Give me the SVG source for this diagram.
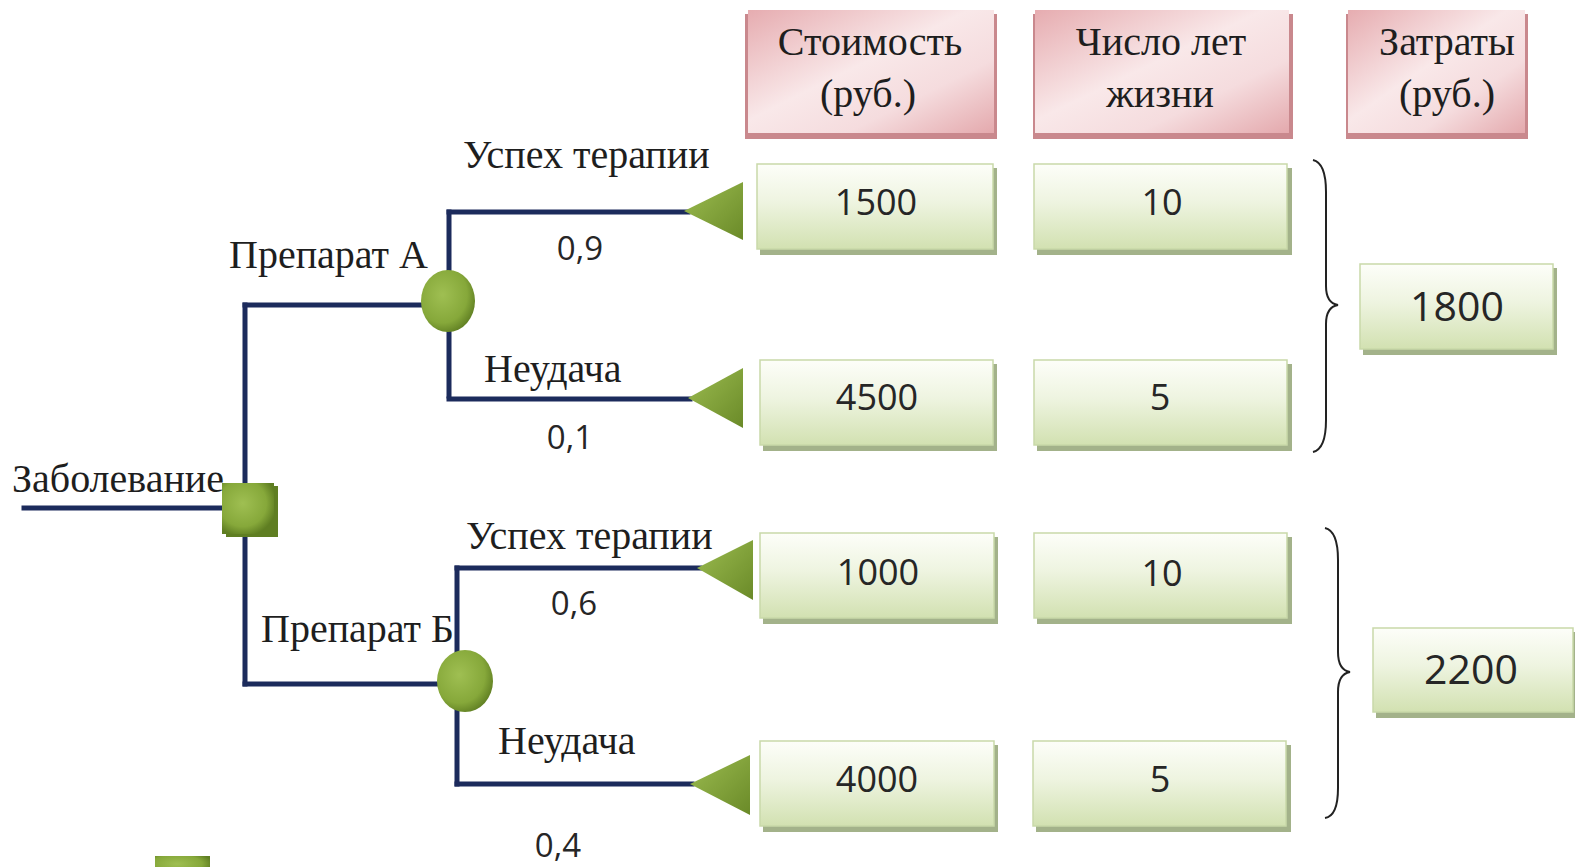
<svg xmlns="http://www.w3.org/2000/svg" width="1575" height="867" viewBox="0 0 1575 867">
<defs>
<linearGradient id="gBox" x1="0" y1="0" x2="0" y2="1">
<stop offset="0" stop-color="#fdfef9"/>
<stop offset="0.45" stop-color="#eef4e0"/>
<stop offset="1" stop-color="#d2e1b1"/>
</linearGradient>
<linearGradient id="gPink" x1="0" y1="0" x2="1" y2="1">
<stop offset="0" stop-color="#e6acb0"/>
<stop offset="0.45" stop-color="#f9e8e9"/>
<stop offset="0.7" stop-color="#f5dcde"/>
<stop offset="1" stop-color="#e4a9ad"/>
</linearGradient>
<radialGradient id="gBall" cx="0.4" cy="0.4" r="0.65">
<stop offset="0" stop-color="#9fbf52"/>
<stop offset="0.7" stop-color="#86a83a"/>
<stop offset="1" stop-color="#5f7e22"/>
</radialGradient>
<linearGradient id="gTri" x1="0" y1="0" x2="1" y2="1">
<stop offset="0" stop-color="#9cbc50"/>
<stop offset="1" stop-color="#6a8a28"/>
</linearGradient>
<style>
.ln{stroke:#1c2b5c;stroke-width:5;fill:none;stroke-linecap:square}
.box{fill:url(#gBox);stroke:#c9d9a9;stroke-width:1.5}
.bsh{fill:#a3b28a}
.pink{fill:url(#gPink)}
.psh{fill:#c9888d}
.ser{font-family:"Liberation Serif","Times New Roman",serif;fill:#1e1e1e}
.lbl{font-size:40px}
.san{font-family:"Open Sans","Noto Sans","DejaVu Sans",sans-serif;fill:#262626}
.brace{fill:none;stroke:#222;stroke-width:2}
.grn{fill:url(#gBall)}
.tri{fill:url(#gTri)}
</style>
</defs>
<rect width="1575" height="867" fill="#ffffff"/>

<g id="connectors">
<path class="ln" d="M24,508 H224"/>
<path class="ln" d="M245,305 V684"/>
<path class="ln" d="M245,305 H424"/>
<path class="ln" d="M245,684 H440"/>
<path class="ln" d="M449,212 V396"/>
<path class="ln" d="M449,212 H688"/>
<path class="ln" d="M449,399 H690"/>
<path class="ln" d="M457,568 V784"/>
<path class="ln" d="M457,568 H700"/>
<path class="ln" d="M457,784 H692"/>
</g>

<g id="decision">
<rect x="226" y="486" width="52" height="51" fill="#5f7e22"/>
<rect x="222" y="483" width="52" height="51" fill="url(#gBall)"/>
<text class="ser lbl" x="12" y="492">Заболевание</text>
</g>

<g id="chanceA">
<ellipse cx="448" cy="301" rx="27" ry="31" class="grn"/>
<text class="ser lbl" x="229" y="268">Препарат А</text>
</g>

<g id="chanceB">
<ellipse cx="465" cy="681" rx="28" ry="31" class="grn"/>
<text class="ser lbl" x="261" y="642">Препарат Б</text>
</g>

<g id="endA1">
<polygon class="tri" points="684,211 743,182 743,240"/>
<text class="ser lbl" x="463" y="168">Успех терапии</text>
<text class="san" x="580" y="260" font-size="33" text-anchor="middle">0,9</text>
</g>
<g id="endA2">
<polygon class="tri" points="688,398 743,368 743,428"/>
<text class="ser lbl" x="484" y="382">Неудача</text>
<text class="san" x="570" y="449" font-size="33" text-anchor="middle">0,1</text>
</g>
<g id="endB1">
<polygon class="tri" points="697,568 753,540 753,600"/>
<text class="ser lbl" x="466" y="549">Успех терапии</text>
<text class="san" x="574" y="615" font-size="33" text-anchor="middle">0,6</text>
</g>
<g id="endB2">
<polygon class="tri" points="690,784 750,755 750,815"/>
<text class="ser lbl" x="498" y="754">Неудача</text>
<text class="san" x="558" y="857" font-size="33" text-anchor="middle">0,4</text>
</g>

<g id="hdr1">
<rect class="psh" x="745" y="14" width="252" height="125"/>
<rect class="pink" x="748" y="10" width="246" height="123"/>
<text class="ser" x="870" y="55" font-size="40" text-anchor="middle">Стоимость</text>
<text class="ser" x="868" y="107" font-size="40" text-anchor="middle">(руб.)</text>
</g>
<g id="hdr2">
<rect class="psh" x="1033" y="14" width="260" height="125"/>
<rect class="pink" x="1035" y="10" width="254" height="123"/>
<text class="ser" x="1161" y="55" font-size="40" text-anchor="middle">Число лет</text>
<text class="ser" x="1160" y="107" font-size="40" text-anchor="middle">жизни</text>
</g>
<g id="hdr3">
<rect class="psh" x="1346" y="14" width="182" height="125"/>
<rect class="pink" x="1348" y="10" width="177" height="123"/>
<text class="ser" x="1447" y="55" font-size="40" text-anchor="middle">Затраты</text>
<text class="ser" x="1447" y="107" font-size="40" text-anchor="middle">(руб.)</text>
</g>

<g id="cost1">
<rect class="bsh" x="760" y="168" width="237" height="87"/>
<rect class="box" x="757" y="164" width="236" height="85"/>
<text class="san" x="876" y="215" font-size="36" text-anchor="middle">1500</text>
</g>
<g id="life1">
<rect class="bsh" x="1037" y="168" width="255" height="87"/>
<rect class="box" x="1034" y="164" width="253" height="85"/>
<text class="san" x="1162" y="215" font-size="36" text-anchor="middle">10</text>
</g>
<g id="cost2">
<rect class="bsh" x="763" y="364" width="234" height="87"/>
<rect class="box" x="760" y="360" width="233" height="85"/>
<text class="san" x="877" y="410" font-size="36" text-anchor="middle">4500</text>
</g>
<g id="life2">
<rect class="bsh" x="1037" y="364" width="255" height="87"/>
<rect class="box" x="1034" y="360" width="253" height="85"/>
<text class="san" x="1160" y="410" font-size="36" text-anchor="middle">5</text>
</g>
<g id="cost3">
<rect class="bsh" x="763" y="537" width="235" height="87"/>
<rect class="box" x="760" y="533" width="234" height="85"/>
<text class="san" x="878" y="585" font-size="36" text-anchor="middle">1000</text>
</g>
<g id="life3">
<rect class="bsh" x="1037" y="537" width="255" height="87"/>
<rect class="box" x="1034" y="533" width="253" height="85"/>
<text class="san" x="1162" y="586" font-size="36" text-anchor="middle">10</text>
</g>
<g id="cost4">
<rect class="bsh" x="763" y="745" width="235" height="87"/>
<rect class="box" x="760" y="741" width="234" height="85"/>
<text class="san" x="877" y="792" font-size="36" text-anchor="middle">4000</text>
</g>
<g id="life4">
<rect class="bsh" x="1036" y="745" width="255" height="87"/>
<rect class="box" x="1033" y="741" width="253" height="85"/>
<text class="san" x="1160" y="792" font-size="36" text-anchor="middle">5</text>
</g>

<g id="totalA">
<path class="brace" d="M1313,160 Q1326,163 1326,192 L1326,286 Q1326,303 1338,305 Q1326,307 1326,324 L1326,420 Q1326,449 1313,452"/>
<rect class="bsh" x="1363" y="268" width="194" height="87"/>
<rect class="box" x="1360" y="264" width="193" height="85"/>
<text class="san" x="1457" y="321" font-size="41" text-anchor="middle">1800</text>
</g>
<g id="totalB">
<path class="brace" d="M1325,528 Q1338,531 1338,560 L1338,652 Q1338,670 1350,672 Q1338,674 1338,692 L1338,788 Q1338,816 1325,818"/>
<rect class="bsh" x="1376" y="632" width="199" height="86"/>
<rect class="box" x="1373" y="628" width="200" height="84"/>
<text class="san" x="1471" y="684" font-size="41" text-anchor="middle">2200</text>
</g>

<g id="legend">
<rect x="155" y="856" width="55" height="20" fill="url(#gBall)"/>
</g>
</svg>
